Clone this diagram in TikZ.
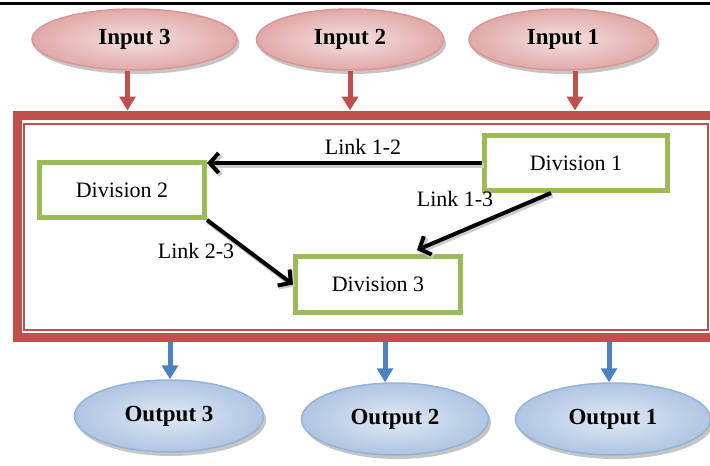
\documentclass[tikz,border=0pt]{standalone}
\usepackage{fontspec}
\setmainfont{Liberation Serif}
\usepackage{tikz}
\usetikzlibrary{positioning,shapes.geometric,shadows,arrows.meta}
\definecolor{frred}{HTML}{C0504D}
\definecolor{divgreen}{HTML}{9BBB59}
\definecolor{outblue}{HTML}{4F81BD}
\definecolor{inpink}{HTML}{F4E1E0}
\definecolor{inrose}{HTML}{E0A9A8}
\definecolor{inedge}{HTML}{D99694}
\definecolor{outpale}{HTML}{E0E9F4}
\definecolor{outsky}{HTML}{AFC5E2}
\definecolor{outedge}{HTML}{95B3D7}

\begin{document}
\begin{tikzpicture}[x=1pt,y=-1pt,
  every node/.style={font=\fontsize{22}{24}\selectfont},
  inell/.style={ellipse,draw=inedge,line width=1.5pt,inner color=inpink,outer color=inrose,
    drop shadow={shadow xshift=2.5pt,shadow yshift=-4pt,fill=black!45},
    minimum height=61pt,font=\fontsize{23}{25}\selectfont\bfseries},
  outell/.style={ellipse,draw=outedge,line width=1.5pt,inner color=outpale,outer color=outsky,
    drop shadow={shadow xshift=2.5pt,shadow yshift=-4pt,fill=black!45},
    minimum height=72pt,font=\fontsize{23}{25}\selectfont\bfseries},
  divbox/.style={draw=divgreen,line width=5pt,fill=white,minimum height=55pt},
  inarr/.style={frred,line width=5pt,-{Triangle[length=14pt,width=16pt]}},
  outarr/.style={outblue,line width=5pt,-{Triangle[length=14pt,width=16pt]}},
  linkarr/.style={line width=4pt,-{Straight Barb[length=9pt,width=20pt]},
    preaction={draw=black!20,line width=5pt,transform canvas={shift={(1.5pt,-2pt)}}}}]
\useasboundingbox (0,0) rectangle (710,466);
\draw[line width=3pt] (0,3) -- (710,3);

% inputs
\node[inell,minimum width=205pt](in3) at (134.5,39.5){Input 3};
\node[inell,minimum width=187pt](in2) at (350,39.5){Input 2};
\node[inell,minimum width=188pt](in1) at (563,39.5){Input 1};

% system frame
\node[draw=frred,line width=9pt,minimum width=697pt,minimum height=222pt](sys) at (365.5,226){};
\node[draw=frred,line width=1.5pt,minimum width=684pt,minimum height=206pt](sysin) at (366,227){};

\draw[inarr] ([xshift=-7pt]in3.south) -- ([xshift=-7pt]in3.south |- sys.north);
\draw[inarr] (in2.south) -- (in2.south |- sys.north);
\draw[inarr] ([xshift=12pt]in1.south) -- ([xshift=12pt]in1.south |- sys.north);

% divisions
\node[divbox,minimum width=183pt](div1) at (576,163){Division 1};
\node[divbox,minimum width=165pt](div2) at (122,190){Division 2};
\node[divbox,minimum width=165pt,minimum height=56pt](div3) at (378,284.5){Division 3};

\node(l12) at (363,147){Link 1-2};
\node(l13) at (455,199){Link 1-3};
\node(l23) at (196,251){Link 2-3};

\draw[linkarr] (div1.west) -- (div1.west -| div2.east);
\draw[linkarr] ([xshift=-25pt]div1.south) -- ([xshift=39pt,yshift=4pt]div3.north);
\draw[linkarr] (div2.south east) -- (div3.west);

% outputs
\node[outell,minimum width=189pt](out3) at (169,416){Output 3};
\node[outell,minimum width=187pt](out2) at (395,419){Output 2};
\node[outell,minimum width=195pt](out1) at (613,419){Output 1};

\draw[outarr] ([xshift=1pt]out3.north |- sys.south) -- ([xshift=1pt]out3.north);
\draw[outarr] ([xshift=-10pt]out2.north |- sys.south) -- ([xshift=-10pt]out2.north);
\draw[outarr] ([xshift=-4pt]out1.north |- sys.south) -- ([xshift=-4pt]out1.north);
\end{tikzpicture}
\end{document}
